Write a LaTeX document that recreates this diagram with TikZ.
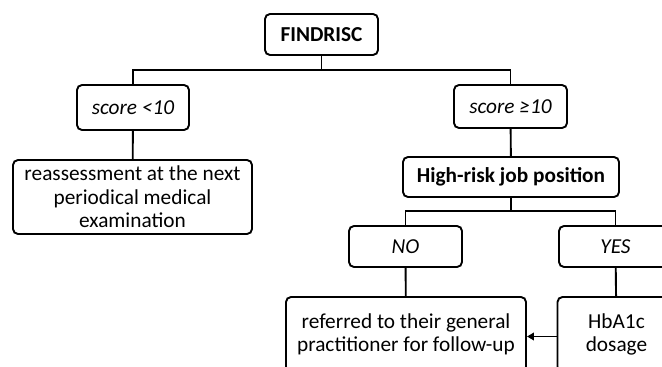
\documentclass[tikz,border=0pt]{standalone}
\usepackage{fontspec}
\setmainfont{Carlito}
\usetikzlibrary{arrows.meta}
\begin{document}
\begin{tikzpicture}[x=1pt,y=-1pt,
  box/.style={draw=black, line width=1.9pt, rounded corners=5pt, align=center, inner sep=0pt,
    font=\fontsize{21.3}{23.5}\selectfont},
  conn/.style={draw=black, line width=1.9pt},
  arr/.style={conn, -{Triangle[length=7pt,width=7.5pt]}}]
\useasboundingbox (0,0) rectangle (662,367);
\node[box, minimum width=113pt, minimum height=41pt] (find) at (321.5,34.5) {\textbf{FINDRISC}};
\node[box, minimum width=112pt, minimum height=45pt] (s1) at (133,107.5) {\textit{score <10}};
\node[box, minimum width=113pt, minimum height=43pt] (s2) at (510.5,106.5) {\textit{score ≥10}};
\node[box, minimum width=239pt, minimum height=74pt] (reass) at (132.5,197) {reassessment at the next\\periodical medical\\examination};
\node[box, minimum width=216pt, minimum height=40pt] (high) at (511,177) {\textbf{High-risk job position}};
\node[box, minimum width=113pt, minimum height=41pt] (no) at (405.5,246.5) {\textit{NO}};
\node[box, minimum width=113pt, minimum height=41pt] (yes) at (615.5,246.5) {\textit{YES}};
\node[box, minimum width=240pt, minimum height=75pt] (ref) at (406,334.5) {referred to their general\\practitioner for follow-up};
\node[box, minimum width=118pt, minimum height=75pt] (hb) at (616.5,334.5) {HbA1c\\dosage};
\coordinate (j1) at (321.5,70);
\coordinate (j2) at (511,211);
\draw[conn] (find) -- (j1);
\draw[conn] (s1) |- (j1) -| (s2);
\draw[conn] (s1) -- (reass);
\draw[conn] (s2) -- (high);
\draw[conn] (high) -- (j2);
\draw[conn] (no) |- (j2) -| (yes);
\draw[conn] (no) -- (ref);
\draw[conn] (yes) -- (hb);
\draw[arr] ([yshift=-2pt]hb.west) -- ([yshift=-2pt]ref.east);
\end{tikzpicture}
\end{document}
